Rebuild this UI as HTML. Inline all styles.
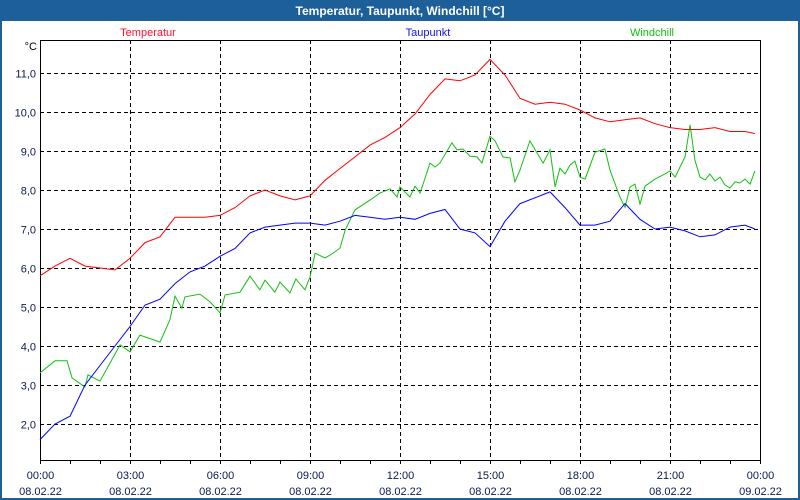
<!DOCTYPE html>
<html><head><meta charset="utf-8"><style>
html,body{margin:0;padding:0;background:#fff;}
svg{display:block;font-family:"Liberation Sans",Tahoma,sans-serif;}
</style></head><body>
<svg id="chart" width="800" height="500" xmlns="http://www.w3.org/2000/svg">
<rect x="0" y="0" width="800" height="500" fill="#1d5f99"/>
<rect x="2" y="21" width="796" height="477" fill="#fff"/>
<text x="400" y="15" text-anchor="middle" fill="#fff" font-size="12" font-weight="bold">Temperatur, Taupunkt, Windchill [°C]</text>
<text x="148" y="36" text-anchor="middle" fill="#ff1030" font-size="11">Temperatur</text>
<text x="428" y="36" text-anchor="middle" fill="#1010ff" font-size="11">Taupunkt</text>
<text x="652" y="36" text-anchor="middle" fill="#10c010" font-size="11">Windchill</text>
<text x="37" y="50" text-anchor="end" fill="#000" font-size="11">°C</text>
<g id="grid"></g>
<g id="axes"></g>
<g id="series"></g>
</svg>
<script>
const yTicks=[2,3,4,5,6,7,8,9,10,11];
const yTickLabels=["2,0","3,0","4,0","5,0","6,0","7,0","8,0","9,0","10,0","11,0"];
const xTickHours=[0,3,6,9,12,15,18,21,24];
const xTimeLabels=["00:00","03:00","06:00","09:00","12:00","15:00","18:00","21:00","00:00"];
const xDateLabels=["08.02.22","08.02.22","08.02.22","08.02.22","08.02.22","08.02.22","08.02.22","08.02.22","09.02.22"];
const hours=[0,0.5,1,1.5,2,2.5,3,3.5,4,4.5,5,5.5,6,6.5,7,7.5,8,8.5,9,9.5,10,10.5,11,11.5,12,12.5,13,13.5,14,14.5,15,15.5,16,16.5,17,17.5,18,18.5,19,19.5,20,20.5,21,21.5,22,22.5,23,23.5,23.83];
const temperatur=[5.8,6.05,6.25,6.05,6.0,5.95,6.25,6.65,6.8,7.3,7.3,7.3,7.35,7.55,7.85,8.0,7.85,7.75,7.85,8.25,8.55,8.85,9.15,9.35,9.6,9.95,10.45,10.85,10.8,10.95,11.35,10.95,10.35,10.2,10.25,10.2,10.05,9.85,9.75,9.8,9.85,9.7,9.6,9.55,9.55,9.6,9.5,9.5,9.45];
const taupunkt=[1.6,2.0,2.2,3.0,3.5,4.0,4.5,5.05,5.2,5.6,5.9,6.05,6.3,6.5,6.9,7.05,7.1,7.15,7.15,7.1,7.2,7.35,7.3,7.25,7.3,7.25,7.4,7.5,7.0,6.9,6.55,7.2,7.65,7.8,7.95,7.55,7.1,7.1,7.2,7.65,7.25,7.0,7.05,6.95,6.8,6.85,7.05,7.1,7.0];
const windTimes=[0,0.5,0.9,1.07,1.5,1.6,2,2.33,2.67,3,3.33,4,4.33,4.5,4.73,4.83,5.33,5.67,6,6.17,6.67,7,7.33,7.5,7.83,8,8.33,8.53,8.83,9,9.17,9.5,9.67,10,10.17,10.5,11,11.33,11.67,11.9,12,12.33,12.5,12.67,13,13.17,13.33,13.73,13.9,14.1,14.33,14.57,14.73,15,15.17,15.43,15.67,15.83,16,16.33,16.77,17,17.17,17.33,17.5,17.67,17.83,18,18.17,18.5,18.83,19,19.33,19.5,19.67,19.83,20,20.17,20.5,20.83,21,21.17,21.5,21.67,21.83,22,22.17,22.33,22.5,22.67,22.83,23,23.17,23.33,23.5,23.67,23.83];
const windchill=[3.31,3.62,3.62,3.18,2.95,3.26,3.10,3.56,4.03,3.85,4.28,4.10,4.67,5.28,4.97,5.26,5.33,5.13,4.85,5.31,5.38,5.79,5.44,5.69,5.38,5.64,5.36,5.72,5.44,5.77,6.38,6.26,6.33,6.51,6.97,7.49,7.74,7.92,8.03,7.82,8.08,7.82,8.10,7.92,8.69,8.59,8.69,9.21,9.03,9.05,8.87,8.85,8.69,9.38,9.26,8.85,8.82,8.21,8.51,9.26,8.69,9.03,8.08,8.56,8.41,8.64,8.74,8.33,8.28,8.97,9.05,8.51,7.82,7.56,8.08,8.15,7.64,8.10,8.28,8.41,8.49,8.33,8.85,9.67,8.77,8.33,8.26,8.41,8.23,8.33,8.13,8.05,8.21,8.18,8.28,8.15,8.49];

const L=40,R=760,T=40,B=460;
const xs=h=>L+(R-L)*h/24;
const ys=v=>424-(v-2)*(424-73)/9;
const NS="http://www.w3.org/2000/svg";
function mk(tag,attrs,parent){const e=document.createElementNS(NS,tag);for(const k in attrs)e.setAttribute(k,attrs[k]);parent.appendChild(e);return e;}
const grid=document.getElementById('grid'),axes=document.getElementById('axes'),series=document.getElementById('series');
yTicks.forEach((v,i)=>{
  const y=Math.round(ys(v))+0.5;
  const g=mk('line',{x1:L,x2:R,y1:y,y2:y,stroke:'#000','stroke-dasharray':'4,3','stroke-width':1},grid);
  
  
  const t=mk('text',{x:36,y:y+4,'text-anchor':'end','font-size':11,fill:'#0a1a50'},axes);
  t.textContent=yTickLabels[i];
  
  
});
for(let h=0;h<=24;h++){
  const x=Math.round(xs(h))+0.5;
  const tk=mk('line',{x1:x,x2:x,y1:B,y2:B+(h%3===0?0:4),stroke:'#000'},axes);
  
  
}
xTickHours.forEach((h,i)=>{
  const x=Math.round(xs(h))+0.5;
  if(h>0&&h<24){
    const g=mk('line',{x1:x,x2:x,y1:T,y2:B,stroke:'#000','stroke-dasharray':'4,3'},grid);
    
    
  }
  const tk=mk('line',{x1:x,x2:x,y1:B,y2:B+4,stroke:'#000'},axes);
  
  
  const t1=mk('text',{x:x,y:479,'text-anchor':'middle','font-size':11,fill:'#0a1a50'},axes);
  t1.textContent=xTimeLabels[i];
  
  
  const t2=mk('text',{x:x,y:495,'text-anchor':'middle','font-size':11,fill:'#0a1a50'},axes);
  t2.textContent=xDateLabels[i];
  
  
});
const box=mk('path',{d:`M${L+0.5},${T+0.5}H${R+0.5}V${B+0.5}H${L+0.5}Z`,fill:'none',stroke:'#000','stroke-width':1},axes);


function line(tx,vals,color,name){
  const p=mk('polyline',{points:vals.map((v,i)=>xs(tx[i]).toFixed(1)+','+ys(v).toFixed(1)).join(' '),fill:'none',stroke:color,'stroke-width':1},series);
  
  
}
line(windTimes,windchill,'#10c010','windchill-line');
line(hours,taupunkt,'#0000ff','taupunkt-line');
line(hours,temperatur,'#ff0000','temperatur-line');
</script>
</body></html>
